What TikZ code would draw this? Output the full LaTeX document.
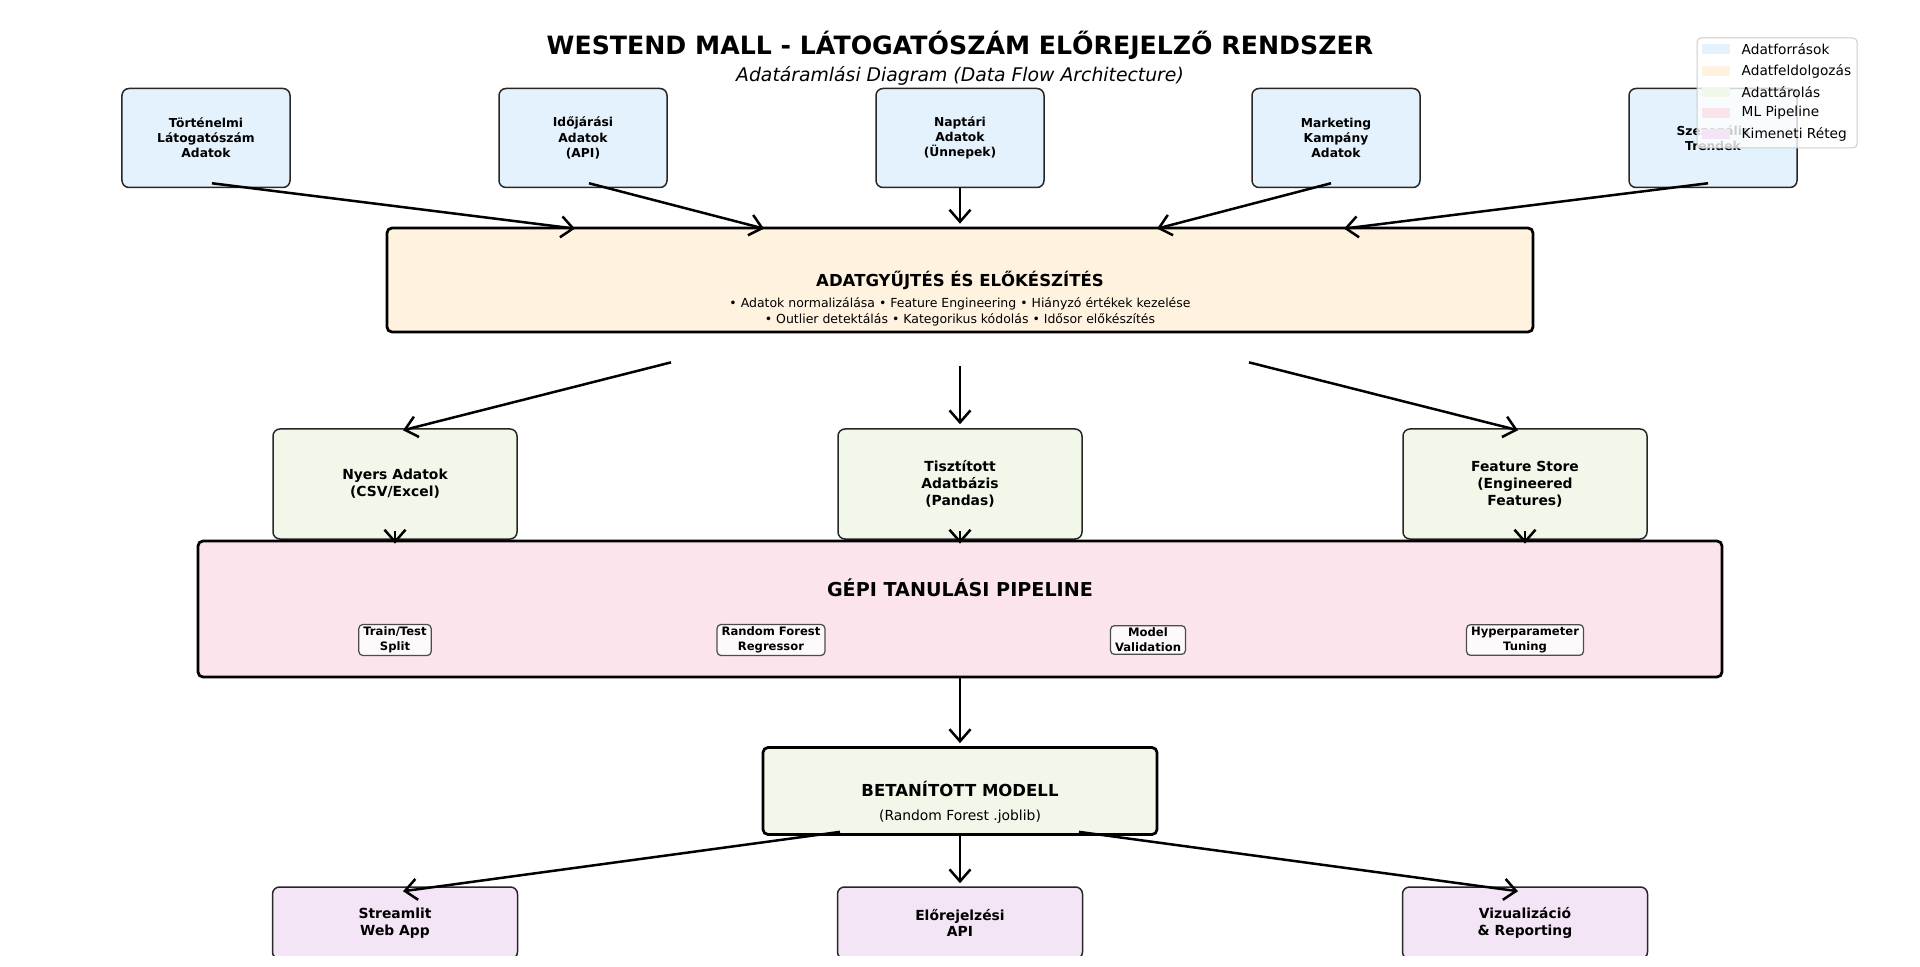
\documentclass[tikz,border=0pt]{standalone}
\usepackage{fontspec}
\setmainfont{DejaVu Sans}
\usetikzlibrary{positioning,calc,arrows.meta}
\definecolor{srcblue}{HTML}{E3F2FD}
\definecolor{procorange}{HTML}{FFF3E0}
\definecolor{storegreen}{HTML}{F1F8E9}
\definecolor{mlpink}{HTML}{FCE4EC}
\definecolor{outpurple}{HTML}{F3E5F5}
\tikzset{
	rbox/.style={
		rectangle,
		rounded corners=1.4mm,
		draw=black!85,
		line width=0.3mm,
		align=center
	}
}

\begin{document}
\begin{tikzpicture}[x=0.2mm,y=-0.2mm]
		\tikzstyle{src}=[rbox, fill=srcblue, minimum width=33.6mm, minimum height=19.8mm, font=\bfseries\fontsize{7}{8.6}\selectfont]
		\tikzstyle{bigbox}=[rbox, rounded corners=1mm, line width=0.55mm, draw=black]
		\tikzstyle{store}=[rbox, fill=storegreen, minimum width=48.8mm, minimum height=22mm, font=\bfseries\fontsize{7.9}{9.6}\selectfont]
		\tikzstyle{sub}=[rbox, rounded corners=0.8mm, draw=black!70, line width=0.25mm, fill=white!80!mlpink, inner xsep=0.9mm, inner ysep=0.5mm, font=\bfseries\fontsize{6.6}{8.4}\selectfont]
		\tikzstyle{outp}=[rbox, fill=outpurple, minimum width=49mm, minimum height=14.4mm, font=\bfseries\fontsize{7.9}{9.5}\selectfont]
		\tikzstyle{connect}=[line width=0.5mm, -{Straight Barb[length=2.4mm,width=4.2mm,line width=0.5mm]}]
		\tikzstyle{lgpatch}=[rectangle, minimum width=5.6mm, minimum height=2mm, inner sep=0]
		\tikzstyle{lgtext}=[inner sep=0, font=\fontsize{7.8}{9}\selectfont]
		\useasboundingbox (0,0) rectangle (1920,967);
		
		\node[font=\bfseries\fontsize{14.35}{17}\selectfont] (title) at (960,45) {WESTEND MALL - LÁTOGATÓSZÁM ELŐREJELZŐ RENDSZER};
		\node[font=\itshape\fontsize{10.7}{12}\selectfont] (subtitle) at (960,76) {Adatáramlási Diagram (Data Flow Architecture)};
		
		% adatforrasok
		\node[src] (s1) at (206,138) {Történelmi\\Látogatószám\\Adatok};
		\node[src] (s2) at (583,138) {Időjárási\\Adatok\\(API)};
		\node[src] (s3) at (960,138) {Naptári\\Adatok\\(Ünnepek)};
		\node[src] (s4) at (1336,138) {Marketing\\Kampány\\Adatok};
		\node[src] (s5) at (1713,138) {Szezonális\\Trendek};
		
		% feldolgozas
		\node[bigbox, fill=procorange, minimum width=229.2mm, minimum height=20.8mm, font=\bfseries\fontsize{9.4}{11}\selectfont] (proc) at (960,280) {ADATGYŰJTÉS ÉS ELŐKÉSZÍTÉS};
		\node[align=center, font=\fontsize{7.1}{8.8}\selectfont] (procnote) at ($(proc.center)+(0,32)$) {• Adatok normalizálása • Feature Engineering • Hiányzó értékek kezelése\\• Outlier detektálás • Kategorikus kódolás • Idősor előkészítés};
		
		% tarolas
		\node[store] (st1) at (395,484) {Nyers Adatok\\(CSV/Excel)};
		\node[store] (st2) at (960,484) {Tisztított\\Adatbázis\\(Pandas)};
		\node[store] (st3) at (1525,484) {Feature Store\\(Engineered\\Features)};
		
		% ml pipeline
		\node[bigbox, fill=mlpink, minimum width=304.8mm, minimum height=27.2mm] (pipe) at (960,609) {};
		\node[font=\bfseries\fontsize{10.9}{13}\selectfont] (pipetitle) at ($(pipe.center)+(0,-21)$) {GÉPI TANULÁSI PIPELINE};
		\node[sub] (m1) at (395,640) {Train/Test\\Split};
		\node[sub] (m2) at (771,640) {Random Forest\\Regressor};
		\node[sub] (m3) at (1148,640) {Model\\Validation};
		\node[sub] (m4) at (1525,640) {Hyperparameter\\Tuning};
		
		% modell
		\node[bigbox, fill=storegreen, minimum width=78.8mm, minimum height=17.4mm] (model) at (960,791) {};
		\node[font=\bfseries\fontsize{9.4}{11}\selectfont] (modeltitle) at ($(model.center)+(0,-2)$) {BETANÍTOTT MODELL};
		\node[font=\fontsize{7.9}{9}\selectfont] (modelnote) at ($(model.center)+(0,26)$) {(Random Forest .joblib)};
		
		% kimenet
		\begin{scope}
		\clip (0,0) rectangle (1920,955);
		\node[outp] (o1) at (395,923) {Streamlit\\Web App};
		\node[outp] (o2) at (960,923) {Előrejelzési\\API};
		\node[outp] (o3) at (1525,923) {Vizualizáció\\\& Reporting};
		\end{scope}
		
		\path[->] 
		($(s1.south)+(6,-5)$) edge [connect] ($(proc.north)+(-385,2)$)
		($(s2.south)+(6,-5)$) edge [connect] ($(proc.north)+(-196,2)$)
		(s3.south) edge [connect] ($(proc.north)+(0,-3)$)
		($(s4.south)+(-5,-5)$) edge [connect] ($(proc.north)+(197,2)$)
		($(s5.south)+(-5,-5)$) edge [connect] ($(proc.north)+(384,2)$)
		($(proc.south)+(-289,29)$) edge [connect] ($(st1.north)+(8,2)$)
		($(proc.south)+(0,33)$) edge [connect] ($(st2.north)+(0,-4)$)
		($(proc.south)+(289,29)$) edge [connect] ($(st3.north)+(-7,2)$)
		($(st1.south)+(0,-9)$) edge [connect] ($(st1.south |- pipe.north)+(0,4)$)
		($(st2.south)+(0,-9)$) edge [connect] ($(st2.south |- pipe.north)+(0,4)$)
		($(st3.south)+(0,-9)$) edge [connect] ($(st3.south |- pipe.north)+(0,4)$)
		(pipe.south) edge [connect] ($(model.north)+(0,-3)$)
		($(model.south)+(-120,-4)$) edge [connect] ($(o1.north)+(8,5)$)
		(model.south) edge [connect] ($(o2.north)+(0,-3)$)
		($(model.south)+(119,-4)$) edge [connect] ($(o3.north)+(-7,5)$)
		;
		
		% jelmagyarazat
		\node[rectangle, rounded corners=0.8mm, draw=black!20, line width=0.2mm, fill=white, fill opacity=0.8, minimum width=32mm, minimum height=22mm] (legend) at (1777,93) {};
		\node[lgpatch, fill=srcblue] (lg1) at (1716,49) {};
		\node[lgpatch, fill=procorange] (lg2) at (1716,71) {};
		\node[lgpatch, fill=storegreen] (lg3) at (1716,92) {};
		\node[lgpatch, fill=mlpink] (lg4) at (1716,113) {};
		\node[lgpatch, fill=outpurple] (lg5) at (1716,134) {};
		\node[lgtext, right=2.2mm of lg1] {Adatforrások};
		\node[lgtext, right=2.2mm of lg2] {Adatfeldolgozás};
		\node[lgtext, right=2.2mm of lg3] {Adattárolás};
		\node[lgtext, right=2.2mm of lg4] {ML Pipeline};
		\node[lgtext, right=2.2mm of lg5] {Kimeneti Réteg};
		
\end{tikzpicture}
\end{document}
